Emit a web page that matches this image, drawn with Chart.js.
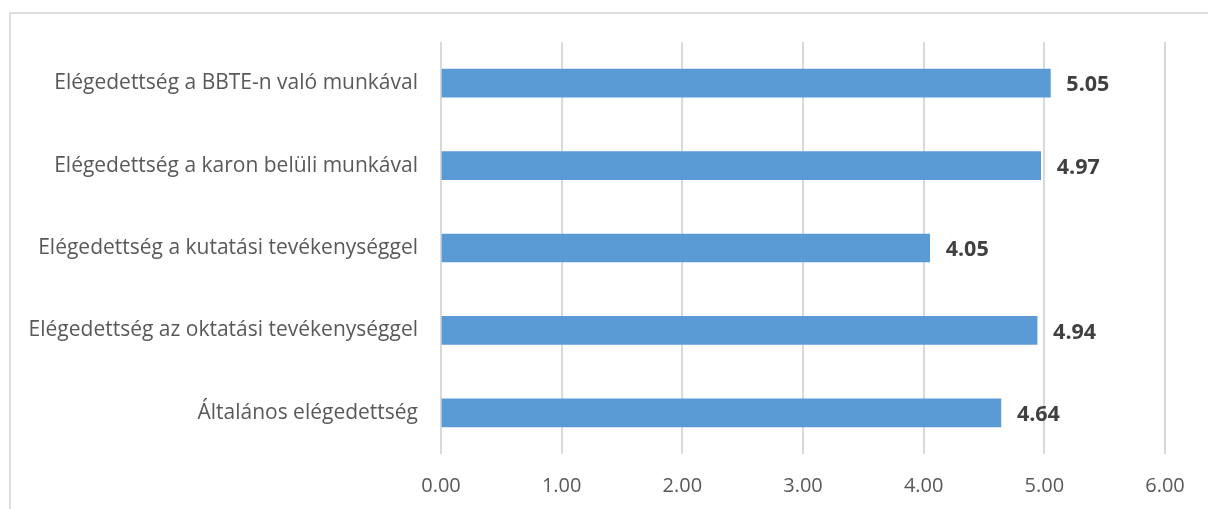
<!DOCTYPE html>
<html>
<head>
<meta charset="utf-8">
<script src="https://cdn.jsdelivr.net/npm/chart.js@4/dist/chart.umd.min.js"></script>
<style>
    html, body { margin: 0; padding: 0; background: #ffffff; }
    #wrap { position: relative; width: 1208px; height: 509px; overflow: hidden; }
    #frame { position: absolute; left: 9px; top: 12px; width: 1300px; height: 600px;
             border-top: 2px solid #dedede; border-left: 2px solid #dedede; }
    #myChart { position: absolute; left: 0; top: 0; }
</style>
</head>
<body>
<div id="wrap">
    <div id="frame"></div>
    <canvas id="myChart" width="1208" height="509"></canvas>
</div>
<script>
var categories = [
    "Elégedettség a BBTE-n való munkával",
    "Elégedettség a karon belüli munkával",
    "Elégedettség a kutatási tevékenységgel",
    "Elégedettség az oktatási tevékenységgel",
    "Általános elégedettség"
];
var scores = [5.05, 4.97, 4.05, 4.94, 4.64];
var axisMin = 0;
var axisMax = 6;

var valueLabels = {
    id: 'valueLabels',
    afterDatasetsDraw: function(chart) {
        var ctx = chart.ctx;
        var meta = chart.getDatasetMeta(0);
        ctx.save();
        ctx.font = 'bold 21.5px "Open Sans"';
        ctx.fillStyle = '#404040';
        ctx.textAlign = 'left';
        ctx.textBaseline = 'middle';
        meta.data.forEach(function(bar, i) {
            ctx.fillText(scores[i].toFixed(2), bar.x + 16, bar.y + 2);
        });
        ctx.restore();
    }
};

function intializeBarChart() {
    var ctx = document.getElementById('myChart');
    new Chart(ctx, {
        type: 'bar',
        data: {
            labels: categories,
            datasets: [{
                data: scores,
                backgroundColor: '#5b9bd5',
                barThickness: 28
            }]
        },
        options: {
            indexAxis: 'y',
            responsive: false,
            animation: false,
            layout: { padding: { top: 42, right: 43, left: 0, bottom: 0 } },
            plugins: {
                legend: { display: false },
                tooltip: { enabled: false }
            },
            scales: {
                x: {
                    min: axisMin,
                    max: axisMax,
                    ticks: {
                        stepSize: 1,
                        padding: 20,
                        color: '#595959',
                        font: { family: 'Open Sans', size: 20 },
                        callback: function(v) { return Number(v).toFixed(2); }
                    },
                    grid: { color: '#d9d9d9', lineWidth: 2, drawTicks: false },
                    border: { display: false },
                    afterFit: function(scale) { scale.height = 55; }
                },
                y: {
                    ticks: {
                        padding: 23,
                        color: '#595959',
                        font: { family: 'Open Sans', size: 21 }
                    },
                    grid: { display: false, drawTicks: false },
                    border: { display: false },
                    afterFit: function(scale) { scale.width = 441; }
                }
            }
        },
        plugins: [valueLabels]
    });
}

intializeBarChart();
</script>
</body>
</html>
